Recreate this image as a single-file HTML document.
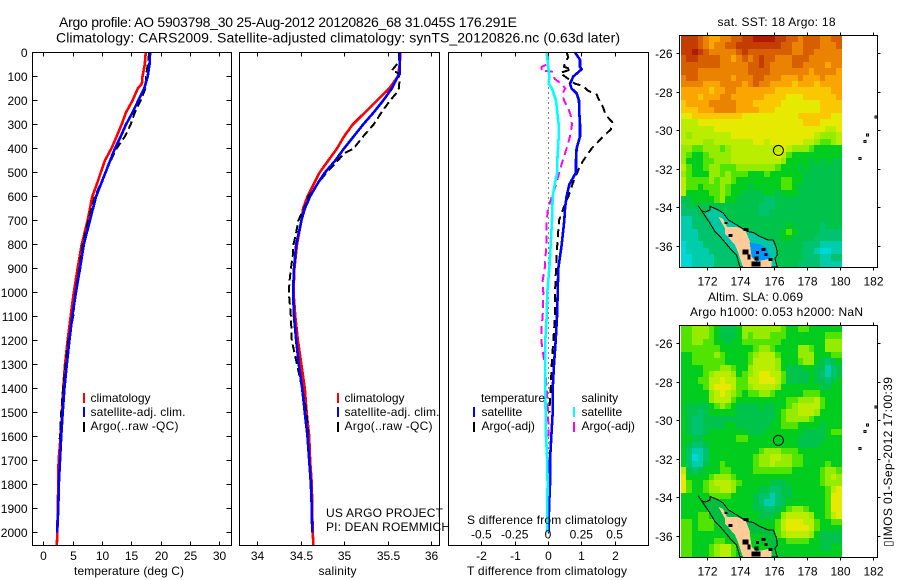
<!DOCTYPE html>
<html lang="en">
<head>
<meta charset="utf-8">
<title>Argo profile 5903798_30</title>
<style>
  html, body { margin: 0; padding: 0; background: #fff; }
  #figure { display: block; width: 900px; height: 580px; background: #fff; }
  text { font-family: "Liberation Sans", sans-serif; font-size: 12px; fill: #000; }
  text.big { font-size: 14px; }
  .frame { fill: none; stroke: #000; stroke-width: 1; shape-rendering: crispEdges; }
  .series { fill: none; stroke-width: 2.6; shape-rendering: crispEdges; stroke-linejoin: round; }
  .series.dashed { stroke-width: 2; }
  .swatch { shape-rendering: crispEdges; }
</style>
</head>
<body>
<svg id="figure" xmlns="http://www.w3.org/2000/svg" width="900" height="580" viewBox="0 0 900 580">
  <text class="big" x="59" y="27" textLength="458" lengthAdjust="spacing">Argo profile: AO 5903798_30 25-Aug-2012 20120826_68 31.045S 176.291E</text>
  <text class="big" x="56" y="42.5" textLength="564" lengthAdjust="spacing">Climatology: CARS2009. Satellite-adjusted climatology: synTS_20120826.nc (0.63d later)</text>

  <g id="panel-t"></g>
  <g id="panel-s"></g>
  <g id="panel-d"></g>
  <g id="map-sst"></g>
  <g id="map-sla"></g>

  <text x="74" y="575" textLength="110" lengthAdjust="spacing">temperature (deg C)</text>
  <text x="318.5" y="575" textLength="38" lengthAdjust="spacing">salinity</text>
  <text x="467" y="575" textLength="160" lengthAdjust="spacing">T difference from climatology</text>
  <text x="467" y="524" textLength="160" lengthAdjust="spacing">S difference from climatology</text>

  <g>
    <rect class="swatch" x="83" y="393" width="2" height="10" fill="#ff0000"/>
    <text x="90.5" y="402">climatology</text>
    <rect class="swatch" x="83" y="407" width="2" height="10" fill="#0000ff"/>
    <text x="90.5" y="416" textLength="95" lengthAdjust="spacing">satellite-adj. clim.</text>
    <rect class="swatch" x="83" y="422" width="2" height="10" fill="#000"/>
    <text x="90.5" y="430" textLength="88" lengthAdjust="spacing">Argo(..raw -QC)</text>
  </g>
  <g>
    <rect class="swatch" x="337" y="393" width="2" height="10" fill="#ff0000"/>
    <text x="344.5" y="402">climatology</text>
    <rect class="swatch" x="337" y="407" width="2" height="10" fill="#0000ff"/>
    <text x="344.5" y="416" textLength="95" lengthAdjust="spacing">satellite-adj. clim.</text>
    <rect class="swatch" x="337" y="422" width="2" height="10" fill="#000"/>
    <text x="344.5" y="430" textLength="88" lengthAdjust="spacing">Argo(..raw -QC)</text>
  </g>
  <g>
    <text x="481" y="402" textLength="64" lengthAdjust="spacing">temperature</text>
    <rect class="swatch" x="473" y="407" width="2" height="10" fill="#0000ff"/>
    <text x="481.5" y="416">satellite</text>
    <rect class="swatch" x="473" y="422" width="2" height="10" fill="#000"/>
    <text x="481.5" y="430">Argo(-adj)</text>
    <text x="581.5" y="402">salinity</text>
    <rect class="swatch" x="573" y="407" width="2" height="10" fill="#00ffff"/>
    <text x="581.5" y="416">satellite</text>
    <rect class="swatch" x="573" y="422" width="2" height="10" fill="#ff00ff"/>
    <text x="581.5" y="430">Argo(-adj)</text>
  </g>

  <text x="326" y="517" textLength="117" lengthAdjust="spacing">US ARGO PROJECT</text>
  <text x="326" y="531" textLength="124" lengthAdjust="spacing">PI: DEAN ROEMMICH</text>

  <text x="717.5" y="26" textLength="118" lengthAdjust="spacing">sat. SST: 18 Argo: 18</text>
  <text x="708" y="301" textLength="95" lengthAdjust="spacing">Altim. SLA: 0.069</text>
  <text x="690" y="316" textLength="173" lengthAdjust="spacing">Argo h1000: 0.053 h2000: NaN</text>
  <text transform="translate(892 547) rotate(-90)" x="0" y="0" textLength="170" lengthAdjust="spacing">▯IMOS 01-Sep-2012 17:00:39</text>
</svg>

<script>
// ---------- profile data ----------
const tempClimDepth = [0,50,100,130,150,200,250,300,350,400,450,500,550,600,700,800,900,1000,1100,1200,1300,1400,1500,1600,1700,1800,1900,2000,2055];
const tempClimValue = [17.45,17.3,16.9,16.8,16.1,15.2,14.1,13.35,12.5,11.6,10.5,9.8,9.1,8.35,7.55,6.55,5.85,5.2,4.65,4.15,3.7,3.4,3.2,2.95,2.6,2.55,2.45,2.4,2.3];
const tempSatDepth = [0,50,100,150,200,250,300,350,400,450,500,550,600,700,800,900,1000,1100,1200,1300,1400,1500,1600,1700,1800,1900,2000];
const tempSatValue = [18.2,18.1,17.8,17.2,16.2,15.2,14.1,13.2,12.2,11.4,10.6,9.8,9.0,7.95,6.9,6.25,5.55,4.95,4.45,4.0,3.6,3.3,3.05,2.85,2.65,2.55,2.35];
const tempArgoDepth = [0,50,100,150,200,250,300,350,400,450,500,600,700,800,900,1000,1100,1200,1300,1400,1500,1610];
const tempArgoValue = [18.05,17.8,17.5,17.4,16.6,15.6,14.9,13.9,12.5,11.5,10.6,8.8,7.65,6.7,6.1,5.45,5.1,4.25,3.8,3.35,3.05,2.8];

const salClimDepth = [0,50,100,130,150,200,250,300,350,400,450,500,550,600,650,700,800,900,1000,1100,1200,1300,1400,1500,1600,1700,1800,1900,2000,2055];
const salClimValue = [35.65,35.64,35.62,35.56,35.52,35.38,35.24,35.1,35,34.92,34.82,34.72,34.65,34.58,34.53,34.51,34.46,34.43,34.42,34.44,34.47,34.51,34.55,34.57,34.6,34.61,34.63,34.635,34.64,34.65];
const salSatDepth = [0,50,90,100,150,200,250,300,350,400,450,500,550,600,650,700,800,900,1000,1100,1200,1300,1400,1500,1600,1700,1800,1900,2000];
const salSatValue = [35.64,35.64,35.64,35.62,35.55,35.45,35.34,35.22,35.11,35,34.9,34.78,34.69,34.61,34.55,34.51,34.45,34.425,34.415,34.425,34.45,34.48,34.52,34.55,34.58,34.6,34.62,34.63,34.635];
const salArgoDepth = [0,40,75,85,110,150,170,200,250,300,350,400,420,450,500,550,600,650,700,750,800,850,900,950,1000,1100,1200,1250,1300,1400,1500,1600];
const salArgoValue = [35.63,35.63,35.55,35.62,35.64,35.63,35.6,35.53,35.43,35.34,35.22,35.11,35.0,34.93,34.8,34.69,34.59,34.54,34.475,34.45,34.42,34.41,34.39,34.375,34.365,34.39,34.4,34.43,34.46,34.52,34.57,34.59];

const diffTSatDepth = [0,30,60,70,100,130,150,170,200,250,300,350,400,450,500,550,600,650,700,800,900,1000,1100,1200,1300,1400,1500,1600,1700,1800,1900,2000];
const diffTSatValue = [0.81,0.96,0.96,1.01,0.76,0.66,0.71,0.86,0.93,0.94,0.96,0.96,0.86,0.84,0.84,0.64,0.56,0.51,0.49,0.41,0.31,0.29,0.27,0.23,0.18,0.14,0.14,0.1,0.06,0.06,0.03,0.02];
const diffTArgoDepth = [0,20,40,60,70,85,110,130,140,160,175,200,230,260,290,320,350,400,450,480,550,600,650,700,800,900,1000,1100,1200,1300,1400,1500];
const diffTArgoValue = [0.56,0.61,0.51,0.48,0.71,0.36,0.61,0.81,1.06,1.21,1.46,1.54,1.66,1.73,1.93,1.89,1.66,1.31,1.06,0.94,0.73,0.61,0.46,0.33,0.28,0.24,0.21,0.21,0.16,0.11,0.08,0.04];
const diffSSatDepth = [0,50,100,130,150,200,250,300,350,400,450,500,550,600,700,800,900,1000,1100,1200,1300,1400,1500,1600,1700,1800,1900,2000];
const diffSSatValue = [-0.01,0,0.01,0.005,0.03,0.06,0.07,0.08,0.08,0.075,0.07,0.07,0.05,0.035,0.03,0.02,0.01,-0.005,-0.01,-0.02,-0.02,-0.02,-0.018,-0.015,-0.005,-0.003,-0.005,-0.005];
const diffSArgoDepth = [0,30,50,60,70,75,80,110,130,150,170,200,230,260,300,350,400,450,500,550,600,650,700,800,900,950,1000,1100,1150,1200,1300,1400,1500,1600];
const diffSArgoValue = [-0.01,0,-0.01,-0.048,-0.048,-0.055,0.03,0.05,0.1,0.13,0.11,0.12,0.15,0.17,0.18,0.165,0.14,0.11,0.085,0.06,0.03,0,-0.01,-0.012,-0.025,-0.04,-0.035,-0.04,-0.05,-0.05,-0.025,-0.01,0,0.005];

// ---------- tick labels ----------
const depthTicks = [0,100,200,300,400,500,600,700,800,900,1000,1100,1200,1300,1400,1500,1600,1700,1800,1900,2000];
const tempTicks = [0,5,10,15,20,25,30];
const salTicks = [34,34.5,35,35.5,36];
const salTickLabels = ['34','34.5','35','35.5','36'];
const diffTTicks = [-2,-1,0,1,2];
const diffSTicks = [-0.5,-0.25,0,0.25,0.5];
const diffSTickLabels = ['-0.5','-0.25','0','0.25','0.5'];
const lonTicks = [172,174,176,178,180,182];
const latTicks = [-26,-28,-30,-32,-34,-36];

// ---------- map grids (colour levels, north to south, west to east) ----------
const sstRows = [
[13,13,13,12,11,10,10,11,11,12,12,13,13,14,14,14,14,13,13,12,12,11,12,12,12,11,11,12,12],
[13,13,13,12,11,10,11,11,12,12,13,13,13,13,13,13,13,13,12,12,11,11,12,12,12,11,11,11,12],
[13,13,14,13,12,11,11,11,11,11,12,13,12,12,12,12,12,12,12,12,11,11,12,12,11,11,11,11,11],
[12,13,13,12,12,12,12,11,11,10,11,12,11,12,13,12,12,11,11,11,12,12,12,11,11,11,11,11,11],
[12,12,12,12,12,12,12,11,11,11,11,11,12,12,13,12,11,11,11,11,12,12,11,11,11,11,10,11,11],
[12,12,12,11,11,11,11,11,11,11,11,11,12,12,12,12,11,11,11,11,11,11,11,10,11,11,11,11,10],
[11,12,12,11,11,11,11,11,11,10,11,11,11,12,12,11,11,11,10,10,10,11,10,10,10,11,10,10,10],
[11,11,11,11,10,10,10,11,11,11,11,10,11,12,11,11,10,10,10,10,9,10,10,10,9,10,10,10,10],
[10,10,10,10,10,9,10,10,11,11,10,10,10,10,10,10,10,9,9,9,9,9,9,9,9,9,9,10,10],
[10,10,10,9,10,10,10,11,11,10,10,10,10,10,10,9,9,9,9,8,8,8,9,9,9,9,9,9,10],
[9,10,10,10,10,11,11,11,11,11,10,10,10,9,9,9,9,9,8,8,8,8,8,8,8,9,9,9,9],
[9,9,9,10,10,10,11,11,11,11,10,10,10,10,9,9,9,8,8,8,8,8,8,8,8,9,9,9,9],
[8,8,9,9,9,9,9,9,9,9,9,8,8,8,8,8,8,8,8,8,8,9,9,9,9,9,9,8,8],
[7,7,7,8,8,8,8,8,8,8,8,8,8,8,8,8,8,8,8,8,8,8,9,9,9,8,8,8,8],
[7,7,7,7,7,7,8,8,8,8,8,8,8,8,8,8,8,8,8,8,8,8,8,8,8,8,7,7,8],
[7,6,7,7,7,7,7,7,7,8,8,8,8,8,8,8,8,8,8,8,8,8,8,8,7,6,6,6,7],
[7,7,7,7,6,6,7,7,7,7,7,7,7,8,8,7,8,8,8,8,8,8,7,7,6,5,5,6,7],
[6,6,5,5,6,6,6,5,6,7,7,7,7,7,7,7,7,7,8,7,6,6,6,5,4,4,4,4,4],
[6,5,4,4,5,6,6,6,6,7,7,7,7,7,7,7,7,8,7,5,4,4,4,4,4,4,4,4,4],
[6,4,4,4,5,5,6,6,6,7,7,7,7,7,7,7,7,7,6,4,4,4,4,3,4,3,4,3,3],
[7,5,4,4,5,6,6,5,5,5,6,6,6,6,6,6,6,5,4,4,4,3,4,3,3,3,3,3,3],
[6,5,4,4,4,6,6,5,6,5,5,5,4,4,4,5,4,4,4,4,4,4,3,3,3,3,3,3,3],
[7,5,5,5,5,6,5,6,6,5,4,4,4,4,4,4,4,4,5,5,4,4,3,3,3,3,3,3,3],
[7,5,5,4,5,5,5,6,5,4,4,4,3,4,4,4,4,4,5,5,4,3,3,3,3,3,3,3,3],
[7,4,4,4,4,5,5,6,5,4,4,3,3,3,3,4,4,3,4,4,4,3,3,3,3,3,3,3,3],
[3,3,4,4,4,4,5,6,4,4,3,3,3,3,3,2,2,3,3,3,3,3,3,3,3,3,3,3,3],
[2,3,3,3,3,3,3,3,3,3,3,3,3,3,2,2,2,3,3,3,3,3,3,3,3,3,3,3,3],
[2,2,2,3,3,3,3,3,3,3,3,3,3,3,2,2,3,3,3,3,3,3,3,3,3,3,3,3,3],
[1,1,2,2,3,3,3,3,3,3,3,3,3,3,3,3,3,3,3,3,3,3,3,3,3,3,3,3,3],
[1,1,2,2,2,3,3,3,3,3,3,3,3,3,3,3,3,3,3,4,3,3,3,3,3,2,3,3,3],
[1,1,1,2,2,2,3,3,3,3,3,3,3,3,3,3,3,3,4,5,4,3,3,3,3,2,2,2,2],
[1,1,1,2,2,2,2,3,3,3,3,3,3,3,3,3,3,3,4,4,3,3,3,3,2,2,2,2,2],
[0,1,1,1,2,2,2,2,3,3,3,3,3,3,3,3,3,3,3,3,3,3,2,2,2,1,1,1,1],
[0,1,1,1,1,2,2,2,2,3,3,3,3,3,3,3,3,3,3,3,3,3,2,2,1,0,0,1,1],
[0,0,1,1,1,1,2,2,2,2,3,3,3,3,3,3,3,3,3,3,3,3,2,2,2,1,1,2,2],
[0,0,1,1,1,1,2,2,2,2,3,3,3,3,3,3,3,3,3,3,3,2,2,2,2,1,1,1,1]
];
const slaRows = [
[5,5,6,6,6,5,4,3,3,3,4,6,6,6,6,6,6,6,5,4,4,5,5,4,4,4,4,4,4],
[5,5,6,6,6,5,4,3,3,3,4,6,5,6,6,6,5,5,5,4,4,4,4,4,4,4,5,5,5],
[5,5,6,6,5,5,4,4,3,4,4,5,5,5,5,5,5,5,4,4,4,4,4,4,4,4,6,6,6],
[5,5,5,5,5,5,5,4,4,4,4,4,4,5,6,6,5,4,4,4,4,6,6,5,4,4,6,6,6],
[4,4,5,5,5,5,6,5,4,4,4,4,5,6,7,7,7,5,4,4,4,6,6,6,4,4,4,5,5],
[4,4,5,5,5,5,5,5,4,4,4,4,5,7,7,7,7,6,4,4,4,5,6,6,4,3,2,3,4],
[4,4,4,4,5,5,5,6,6,5,4,4,6,7,7,7,7,6,4,3,3,3,4,4,3,3,1,2,3],
[4,4,4,4,5,6,7,7,7,6,4,5,6,7,8,8,7,7,5,3,3,3,3,4,3,2,1,2,3],
[4,4,4,5,5,7,7,8,7,7,5,5,7,7,8,8,8,7,5,3,3,3,3,4,3,3,2,3,4],
[4,4,4,4,5,7,8,8,8,7,5,5,6,7,7,7,7,6,4,4,4,4,4,4,4,3,3,4,4],
[4,4,4,4,4,6,7,8,7,6,5,4,5,5,6,6,5,4,4,4,4,4,5,5,5,4,4,4,4],
[4,4,4,4,4,6,7,7,7,5,4,4,4,4,4,4,4,4,4,5,5,6,6,6,7,5,4,4,4],
[4,3,3,3,3,4,5,6,5,4,3,3,3,3,4,3,3,4,4,5,6,7,7,7,7,5,4,4,4],
[4,3,3,2,3,4,4,4,4,4,3,3,3,3,3,3,3,4,5,6,6,7,7,7,6,4,4,4,4],
[4,3,2,2,3,3,3,3,3,3,3,3,3,3,3,3,3,4,5,6,6,6,6,5,4,4,4,4,4],
[4,3,2,2,3,3,3,3,4,4,3,3,3,3,3,3,4,4,5,5,5,4,4,4,4,3,4,4,4],
[4,3,2,2,3,4,4,4,4,4,4,4,3,3,3,4,4,4,4,4,4,4,3,3,3,3,4,5,5],
[4,4,3,3,4,4,4,4,4,4,5,5,4,4,4,4,4,4,4,4,4,3,3,3,3,3,4,4,4],
[4,3,2,2,3,4,4,4,4,4,4,4,4,4,4,4,4,4,4,4,4,3,3,3,3,4,4,4,4],
[4,2,1,1,2,4,4,4,4,4,4,4,4,4,5,6,6,6,5,5,5,4,4,4,4,4,4,4,4],
[4,2,0,1,2,4,4,4,4,4,4,4,4,5,6,6,7,7,6,6,5,5,4,4,4,4,4,4,4],
[4,2,1,1,3,4,4,5,4,4,4,4,4,5,6,6,7,6,6,6,5,5,4,4,4,4,5,4,4],
[7,3,2,3,4,4,4,5,5,4,4,4,4,5,5,5,5,5,5,5,4,4,4,4,4,5,6,6,5],
[8,4,4,4,4,5,6,6,6,5,4,4,4,4,4,4,4,4,4,4,4,4,4,4,4,5,6,7,6],
[8,5,4,4,5,6,7,7,7,6,5,4,4,4,4,4,3,3,3,4,4,4,4,4,4,5,6,6,6],
[8,5,4,4,5,6,6,7,7,6,4,4,4,4,3,3,2,2,3,3,4,4,4,4,4,4,5,7,8],
[4,4,4,4,4,5,5,5,5,4,4,4,4,3,2,2,1,2,3,3,4,4,4,4,4,4,5,8,8],
[4,4,4,4,4,4,4,4,4,4,4,4,4,3,2,1,1,2,3,4,4,4,4,4,4,4,5,8,8],
[4,4,4,4,4,4,4,4,4,4,4,4,4,3,3,2,2,3,4,5,6,6,5,4,4,4,5,8,8],
[4,4,4,5,5,4,4,4,4,4,4,4,4,4,3,3,3,4,6,7,7,7,7,6,4,4,5,7,8],
[5,5,4,5,5,5,4,4,4,4,4,4,4,4,4,4,4,5,7,8,8,8,7,7,5,4,4,5,5],
[5,5,4,5,5,5,4,4,4,4,4,4,4,4,4,4,4,5,7,8,8,8,8,7,5,4,4,4,4],
[5,5,4,4,4,4,4,4,4,4,4,4,4,4,4,4,4,5,6,7,7,7,7,6,4,3,3,3,3],
[5,5,4,4,4,4,5,5,4,4,4,4,4,4,4,4,4,4,4,5,5,5,5,4,4,3,3,3,3],
[5,5,4,4,4,5,6,7,7,5,4,4,4,4,4,4,4,4,4,4,4,4,4,4,4,3,3,4,4],
[5,5,4,4,4,5,6,7,7,5,4,4,4,4,4,4,4,4,4,4,4,4,4,4,4,4,4,4,4]
];

// ---------- geography (lon, lat) ----------
const shelfLon = [171.46,171.66,171.90,172.16,172.16,172.66,172.96,173.27,173.87,174.41,174.77,175.18,175.68,175.98,176.18,176.22,176.08,176.22,173.97,173.77,173.37,172.86,172.46,172.16,171.76];
const shelfLat = [-33.92,-34.18,-34.24,-34.13,-33.95,-34.13,-34.30,-34.65,-34.96,-35.25,-35.30,-35.51,-35.69,-35.69,-36.12,-36.47,-36.64,-37.09,-37.09,-36.47,-36.12,-35.60,-35.25,-34.82,-34.30];
const bayLon = [174.55,175.18,175.58,175.85,175.0,174.67];
const bayLat = [-35.82,-35.9,-36.1,-36.7,-36.85,-36.55];
const landLon = [172.66,172.96,173.17,173.87,174.33,174.57,174.67,175.18,175.3,174.15,173.85,173.67,173.07,173.07];
const landLat = [-34.47,-34.61,-35.0,-35.03,-35.25,-35.77,-36.38,-36.98,-37.09,-37.09,-36.31,-35.95,-35.35,-35.09];
const land2Lon = [174.97,175.88,175.88,174.67];
const land2Lat = [-36.8,-36.64,-37.09,-37.09];
const blotchLon = [173.27,174.17,174.13,174.67,175.28,175.68,174.41,174.85,173.05,174.95,175.45];
const blotchLat = [-35.37,-35.08,-36.19,-36.8,-36.1,-36.62,-36.45,-36.55,-34.75,-36.25,-36.35];
const blotchWide = [4,5,6,9,4,4,3,4,3,3,3];
const blotchTall = [3,3,5,5,3,3,5,4,2,3,3];
const islandLon = [182.11,181.61,181.45,181.15];
const islandLat = [-29.26,-30.19,-30.53,-31.41];
const argoLon = 176.291;
const argoLat = -31.045;

// ---------- helpers ----------
const NS = 'http://www.w3.org/2000/svg';
const PANEL_TOP = 52.5, PANEL_BOTTOM = 545.5;

function depthY(d) { return 52.5 + d * 0.24; }
function tempX(v) { return 43.3 + v * 5.867; }
function salX(v) { return 257 + (v - 34) * 87; }
function diffTX(v) { return 548 + v * 33.3; }
function diffSX(v) { return 548 + v * 133.2; }

function make(tag, parent, name, attrs) {
  const el = document.createElementNS(NS, tag);
  
  
  for (const k in attrs) el.setAttribute(k, attrs[k]);
  parent.appendChild(el);
  return el;
}
function label(parent, name, str, x, y, anchor) {
  const el = make('text', parent, name, { x: x, y: y, 'text-anchor': anchor || 'middle' });
  el.textContent = str;
  return el;
}
function frame(parent, name, x0, y0, x1, y1) {
  make('rect', parent, name, { class: 'frame', x: x0, y: y0, width: x1 - x0, height: y1 - y0 });
}
function tickLine(parent, name, x1, y1, x2, y2) {
  make('line', parent, name, { class: 'frame', x1: x1, y1: y1, x2: x2, y2: y2 });
}
function drawSeries(parent, name, depths, values, xScale, color, dash) {
  const pts = depths.map((d, i) => xScale(values[i]).toFixed(1) + ',' + depthY(d).toFixed(1)).join(' ');
  const attrs = { class: dash ? 'series dashed' : 'series', points: pts, stroke: color };
  if (dash) attrs['stroke-dasharray'] = dash;
  make('polyline', parent, name, attrs);
}

// ---------- temperature panel ----------
const pT = document.getElementById('panel-t');
drawSeries(pT, 'temperature-climatology-line', tempClimDepth, tempClimValue, tempX, '#ff0000');
drawSeries(pT, 'temperature-argo-line', tempArgoDepth, tempArgoValue, tempX, '#000000', '8 4');
drawSeries(pT, 'temperature-satellite-line', tempSatDepth, tempSatValue, tempX, '#0000ff');
frame(pT, 'temperature-plot-frame', 32.5, PANEL_TOP, 231.5, PANEL_BOTTOM);
depthTicks.forEach(d => {
  const y = Math.floor(depthY(d)) + 0.5;
  tickLine(pT, 'depth-tick-left', 32.5, y, 37.5, y);
  tickLine(pT, 'depth-tick-right', 226.5, y, 231.5, y);
  label(pT, 'depth-tick-label', String(d), 27.5, y + 4.5, 'end');
});
tempTicks.forEach(v => {
  const x = Math.round(tempX(v)) + 0.5;
  tickLine(pT, 'temperature-tick-top', x, PANEL_TOP, x, PANEL_TOP + 4);
  tickLine(pT, 'temperature-tick-bottom', x, PANEL_BOTTOM - 4, x, PANEL_BOTTOM);
  label(pT, 'temperature-tick-label', String(v), x, 560);
});

// ---------- salinity panel ----------
const pS = document.getElementById('panel-s');
drawSeries(pS, 'salinity-climatology-line', salClimDepth, salClimValue, salX, '#ff0000');
drawSeries(pS, 'salinity-argo-line', salArgoDepth, salArgoValue, salX, '#000000', '8 4');
drawSeries(pS, 'salinity-satellite-line', salSatDepth, salSatValue, salX, '#0000ff');
frame(pS, 'salinity-plot-frame', 239.5, PANEL_TOP, 439.5, PANEL_BOTTOM);
salTicks.forEach((v, i) => {
  const x = Math.round(salX(v)) + 0.5;
  tickLine(pS, 'salinity-tick-top', x, PANEL_TOP, x, PANEL_TOP + 4);
  tickLine(pS, 'salinity-tick-bottom', x, PANEL_BOTTOM - 4, x, PANEL_BOTTOM);
  label(pS, 'salinity-tick-label', salTickLabels[i], x, 560);
});

// ---------- difference panel ----------
const pD = document.getElementById('panel-d');
make('line', pD, 'zero-difference-line', { x1: 548.5, y1: PANEL_TOP, x2: 548.5, y2: PANEL_BOTTOM, stroke: '#000', 'stroke-width': 1, 'stroke-dasharray': '1 4', 'shape-rendering': 'crispEdges' });
drawSeries(pD, 's-difference-argo-line', diffSArgoDepth, diffSArgoValue, diffSX, '#ff00ff', '8 5');
drawSeries(pD, 't-difference-argo-line', diffTArgoDepth, diffTArgoValue, diffTX, '#000000', '8 5');
drawSeries(pD, 't-difference-satellite-line', diffTSatDepth, diffTSatValue, diffTX, '#0000ff');
drawSeries(pD, 's-difference-satellite-line', diffSSatDepth, diffSSatValue, diffSX, '#00ffff');
frame(pD, 'difference-plot-frame', 448.5, PANEL_TOP, 648.5, PANEL_BOTTOM);
diffTTicks.forEach(v => {
  const x = Math.round(diffTX(v)) + 0.5;
  tickLine(pD, 'difference-tick-top', x, PANEL_TOP, x, PANEL_TOP + 4);
  tickLine(pD, 'difference-tick-bottom', x, PANEL_BOTTOM - 4, x, PANEL_BOTTOM);
  label(pD, 't-difference-tick-label', String(v), x, 560);
});
diffSTicks.forEach((v, i) => {
  label(pD, 's-difference-tick-label', diffSTickLabels[i], diffSX(v), 538.5);
});

// ---------- maps ----------
const levelColors = ['#00d7d7','#00cdaa','#00c36e','#00c34b','#00cd1e','#50e400','#96ec00','#b9ee00','#e6ea00','#fac800','#faa500','#eb8200','#d75f00','#c33c00','#b41900'];
function levelColor(v) { return levelColors[Math.max(0, Math.min(levelColors.length - 1, Math.round(v)))]; }
const LON0 = 170.41, LON_STEP = 0.335, LAT_STEP = 0.3325;
function lonX(lon) { return 707.3 + (lon - 172) * 16.58; }

function drawMap(id, prefix, rows, top, bottom, tick26Y, shelfFill, bayFill) {
  const g = document.getElementById(id);
  const latY = lat => tick26Y + (-26 - lat) * 19.3;
  const latTop = -26 + (tick26Y - (top + 0.5)) / 19.3;
  rows.forEach((row, r) => {
    row.forEach((v, c) => {
      const x0 = Math.round(lonX(LON0 + c * LON_STEP));
      const x1 = Math.round(lonX(LON0 + (c + 1) * LON_STEP));
      const y0 = Math.round(latY(latTop - r * LAT_STEP));
      const y1 = Math.round(latY(latTop - (r + 1) * LAT_STEP));
      make('rect', g, prefix + '-cell', { x: x0, y: y0, width: x1 - x0, height: y1 - y0, fill: levelColor(v), 'shape-rendering': 'crispEdges' });
    });
  });
  const pts = (lons, lats) => lons.map((l, i) => lonX(l).toFixed(1) + ',' + latY(lats[i]).toFixed(1)).join(' ');
  make('polygon', g, prefix + '-shelf-contour', { points: pts(shelfLon, shelfLat), fill: shelfFill, stroke: '#000', 'stroke-width': 1, 'shape-rendering': 'crispEdges' });
  make('polygon', g, prefix + '-land-north', { points: pts(landLon, landLat), fill: '#ffcc99', 'shape-rendering': 'crispEdges' });
  make('polygon', g, prefix + '-bay', { points: pts(bayLon, bayLat), fill: bayFill, 'shape-rendering': 'crispEdges' });
  make('polygon', g, prefix + '-land-south', { points: pts(land2Lon, land2Lat), fill: '#ffcc99', 'shape-rendering': 'crispEdges' });
  blotchLon.forEach((l, i) => {
    make('rect', g, prefix + '-lake', { x: lonX(l).toFixed(1), y: latY(blotchLat[i]).toFixed(1), width: blotchWide[i], height: blotchTall[i], fill: '#000', 'shape-rendering': 'crispEdges' });
  });
  islandLon.forEach((l, i) => {
    make('rect', g, prefix + '-island', { x: lonX(l).toFixed(1), y: latY(islandLat[i]).toFixed(1), width: 2, height: 2, fill: 'none', stroke: '#000', 'stroke-width': 1, 'shape-rendering': 'crispEdges' });
  });
  make('circle', g, prefix + '-argo-position', { cx: lonX(argoLon).toFixed(1), cy: latY(argoLat).toFixed(1), r: 5, fill: 'none', stroke: '#000', 'stroke-width': 1 });
  frame(g, prefix + '-frame', 679.5, top, 877.5, bottom);
  lonTicks.forEach(v => {
    const x = Math.round(lonX(v)) + 0.5;
    tickLine(g, prefix + '-lon-tick-top', x, top - 3, x, top);
    tickLine(g, prefix + '-lon-tick-bottom', x, bottom, x, bottom + 3);
    label(g, prefix + '-lon-tick-label', String(v), x, bottom + 18);
  });
  latTicks.forEach(v => {
    const y = Math.round(latY(v)) + 0.5;
    tickLine(g, prefix + '-lat-tick-left', 676.5, y, 679.5, y);
    tickLine(g, prefix + '-lat-tick-right', 877.5, y, 880.5, y);
    label(g, prefix + '-lat-tick-label', String(v), 672.5, y + 4.5, 'end');
  });
}
drawMap('map-sst', 'sst-map', sstRows, 35.5, 267.5, 53, '#00c8a0', '#0096ff');
drawMap('map-sla', 'sla-map', slaRows, 325.5, 557.5, 343, '#00bf40', '#00cd1e');
</script>
</body>
</html>
